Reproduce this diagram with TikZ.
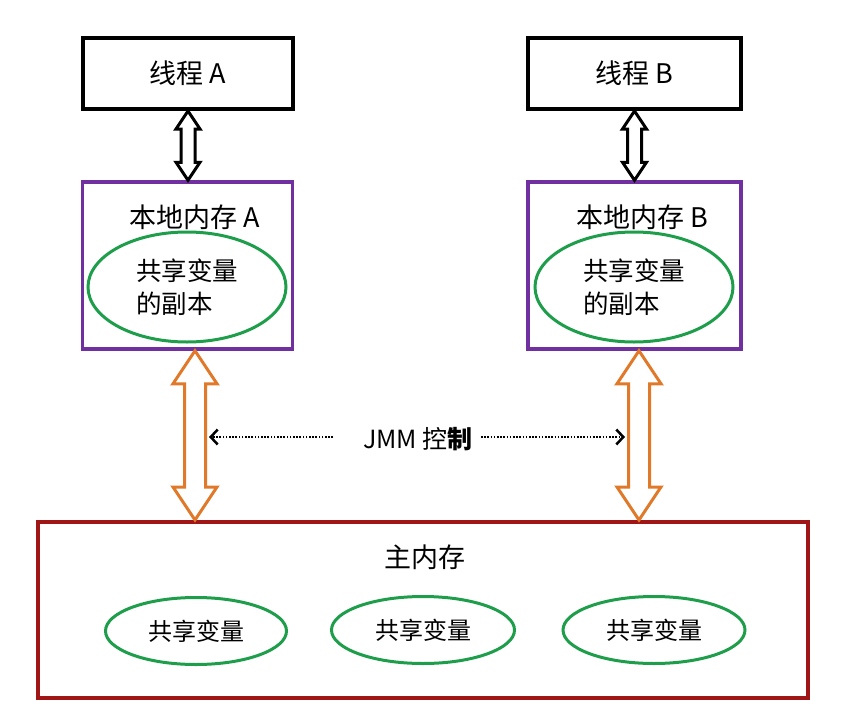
\documentclass[tikz,border=0pt]{standalone}
\usepackage{fontspec}
\setmainfont{Noto Sans CJK SC}
\usetikzlibrary{arrows.meta,calc,shapes.geometric}
\definecolor{mpurple}{HTML}{7030A0}
\definecolor{mgreen}{HTML}{1E9E4A}
\definecolor{morange}{HTML}{E07A2A}
\definecolor{mred}{HTML}{A01515}
\newcommand{\hollowdarrow}[6]{%
  \draw[#6] let \p1=(#1), \p2=(#2) in
  (\x1,\y1) -- (\x1+#4,\y1-#5) -- (\x1+#3,\y1-#5) -- (\x1+#3,\y2+#5) -- (\x1+#4,\y2+#5)
  -- (\x1,\y2) -- (\x1-#4,\y2+#5) -- (\x1-#3,\y2+#5) -- (\x1-#3,\y1-#5) -- (\x1-#4,\y1-#5) -- cycle;}
\tikzset{
  threadbox/.style={draw=black, line width=4pt, rectangle, minimum width=210pt, minimum height=71pt, font=\fontsize{27}{32}\selectfont},
  localbox/.style={draw=mpurple, line width=3.5pt, rectangle, minimum width=210pt, minimum height=167pt},
  mainbox/.style={draw=mred, line width=4pt, rectangle, minimum width=770pt, minimum height=176pt},
  ell/.style={draw=mgreen, line width=3pt, ellipse, inner sep=0pt},
  title/.style={font=\fontsize{27}{32}\selectfont},
  blackarr/.style={draw=black, line width=3pt, fill=white, line join=miter},
  orangearr/.style={draw=morange, line width=3pt, fill=white, line join=miter},
  dotarrow/.style={black, line width=2.2pt, dash pattern=on 1.6pt off 1.6pt, -{Straight Barb[length=7pt,width=15pt,line width=2.5pt]}}
}
\begin{document}
\begin{tikzpicture}[x=1pt,y=-1pt]
\useasboundingbox (0,0) rectangle (857,715);
% threads
\node[threadbox] (tA) at (188,73.5) {线程 A};
\node[threadbox, minimum width=213pt] (tB) at (634.5,73.5) {线程 B};
% local memories
\node[localbox] (lA) at (187.5,265.5) {};
\node[localbox, minimum width=213pt] (lB) at (634.5,265.5) {};
\node[title] (lAt) at (195,217) {本地内存 A};
\node[title] (lBt) at (642,217) {本地内存 B};
\node[ell, minimum width=198pt, minimum height=110pt, align=left, font=\fontsize{25.5}{33}\selectfont] (eA) at (187,287) {共享变量\\的副本};
\node[ell, minimum width=198pt, minimum height=110pt, align=left, font=\fontsize{25.5}{33}\selectfont] (eB) at (634,287) {共享变量\\的副本};
% main memory
\node[mainbox] (main) at (423,610) {};
\node[title] (mt) at (425,557) {主内存};
\node[ell, minimum width=181pt, minimum height=67pt, font=\fontsize{24}{28}\selectfont] (m1) at (196,631) {共享变量};
\node[ell, minimum width=183pt, minimum height=67pt, font=\fontsize{24}{28}\selectfont] (m2) at (423,630) {共享变量};
\node[ell, minimum width=182pt, minimum height=67pt, font=\fontsize{24}{28}\selectfont] (m3) at (654,630) {共享变量};
% black hollow arrows
\hollowdarrow{tA.south}{lA.north}{7pt}{12pt}{18pt}{blackarr}
\hollowdarrow{tB.south}{lB.north}{7pt}{12pt}{18pt}{blackarr}
% orange hollow arrows
\coordinate (oA) at (195,0);
\coordinate (oB) at (639,0);
\hollowdarrow{lA.south -| oA}{main.north -| oA}{10.5pt}{22pt}{33pt}{orangearr}
\hollowdarrow{lB.south -| oB}{main.north -| oB}{10.5pt}{22pt}{33pt}{orangearr}
% JMM
\node[title, font=\fontsize{25}{30}\selectfont] (jmm) at (418,439) {JMM 控\textbf{制}};
\coordinate (jL) at (333,437);
\coordinate (dL) at (209,437);
\coordinate (jR) at (481,437);
\coordinate (dR) at (625,437);
\draw[dotarrow] (jL) -- (dL);
\draw[dotarrow] (jR) -- (dR);
\end{tikzpicture}
\end{document}
